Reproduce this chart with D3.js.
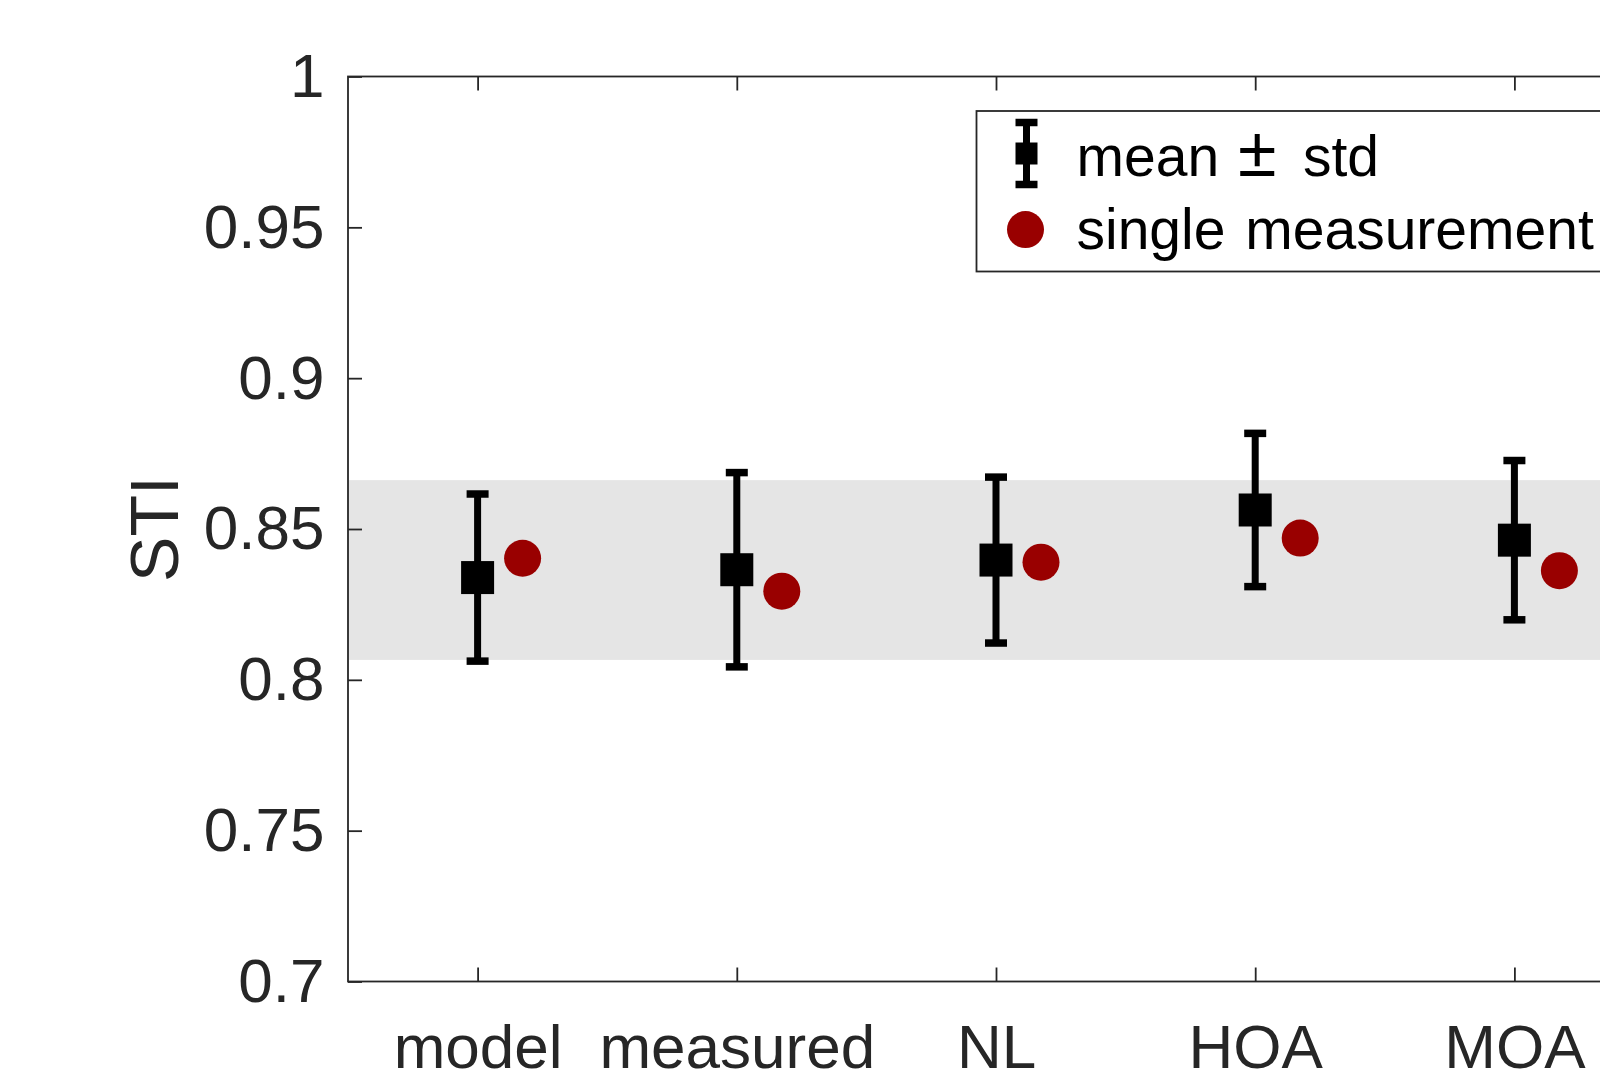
<!DOCTYPE html>
<html>
<head>
<meta charset="utf-8">
<script src="https://cdn.jsdelivr.net/npm/d3@7"></script>
<style>
  body { margin: 0; background: #fff; }
  svg { display: block; }
  text { font-family: "Liberation Sans", Arial, Helvetica, sans-serif; }
</style>
</head>
<body>
<div id="chart"></div>
<script>
var categories = ["model", "measured", "NL", "HOA", "MOA"];
var means = [0.8339, 0.8365, 0.8397, 0.8563, 0.8463];
var stds = [0.0277, 0.0322, 0.0275, 0.0254, 0.0264];
var singles = [0.8403, 0.8294, 0.8390, 0.8470, 0.8362];
var band = [0.8066, 0.8662];
var yTicks = [0.7, 0.75, 0.8, 0.85, 0.9, 0.95, 1];
var yTickLabels = ["0.7", "0.75", "0.8", "0.85", "0.9", "0.95", "1"];

var width = 1600, height = 1081;
var plotLeft = 348, plotTop = 76.5, plotBottom = 981.5, step = 259.2;
var ink = "#262626", red = "#990000";

var svg = d3.select("#chart").append("svg")
  .attr("width", width)
  .attr("height", height);

var x = d3.scaleLinear()
  .domain([0.5, categories.length + 0.5])
  .range([plotLeft, plotLeft + step * categories.length]);
var y = d3.scaleLinear()
  .domain([0.7, 1])
  .range([plotBottom, plotTop]);

// grey band
svg.append("rect")
  .attr("x", x(0.5))
  .attr("width", x(categories.length + 0.5) - x(0.5))
  .attr("y", y(band[1]))
  .attr("height", y(band[0]) - y(band[1]))
  .attr("fill", "#e5e5e5");

// axes
var yAxis = d3.axisLeft(y).tickValues(yTicks)
  .tickFormat((d, i) => yTickLabels[i])
  .tickSizeInner(-14).tickSizeOuter(0).tickPadding(23.5);
var gy = svg.append("g").attr("transform", "translate(" + plotLeft + ",0)").call(yAxis);

var xAxis = d3.axisBottom(x).tickValues(d3.range(1, categories.length + 1))
  .tickFormat((d) => categories[d - 1])
  .tickSizeInner(-14).tickSizeOuter(0).tickPadding(42);
var gx = svg.append("g").attr("transform", "translate(0," + plotBottom + ")").call(xAxis);

var xTop = d3.axisTop(x).tickValues(d3.range(1, categories.length + 1))
  .tickFormat("").tickSizeInner(-14).tickSizeOuter(0);
var gt = svg.append("g").attr("transform", "translate(0," + plotTop + ")").call(xTop);

[gy, gx, gt].forEach(g => {
  g.select(".domain").remove();
  g.selectAll(".tick line").attr("stroke", ink).attr("stroke-width", 1.8);
  g.selectAll(".tick text").attr("fill", ink).style("font-size", "62px")
    .style("font-family", '"Liberation Sans", Arial, Helvetica, sans-serif');
});

// axes box
svg.append("rect")
  .attr("x", x(0.5)).attr("y", plotTop)
  .attr("width", x(categories.length + 0.5) - x(0.5))
  .attr("height", plotBottom - plotTop)
  .attr("fill", "none").attr("stroke", ink).attr("stroke-width", 1.8);

// y label
svg.append("text")
  .attr("transform", "translate(178," + (plotTop + plotBottom) / 2 + ") rotate(-90)")
  .attr("text-anchor", "middle")
  .attr("fill", ink)
  .style("font-size", "68px")
  .text("STI");

// error bars
var eb = svg.append("g").selectAll("g").data(categories).enter().append("g");
eb.append("line")
  .attr("x1", (d, i) => x(i + 1)).attr("x2", (d, i) => x(i + 1))
  .attr("y1", (d, i) => y(means[i] + stds[i])).attr("y2", (d, i) => y(means[i] - stds[i]))
  .attr("stroke", "#000").attr("stroke-width", 7);
[1, -1].forEach(s => {
  eb.append("line")
    .attr("x1", (d, i) => x(i + 1) - 11).attr("x2", (d, i) => x(i + 1) + 11)
    .attr("y1", (d, i) => y(means[i] + s * stds[i])).attr("y2", (d, i) => y(means[i] + s * stds[i]))
    .attr("stroke", "#000").attr("stroke-width", 7.5);
});
eb.append("rect")
  .attr("x", (d, i) => x(i + 1) - 16.5).attr("y", (d, i) => y(means[i]) - 16.5)
  .attr("width", 33).attr("height", 33)
  .attr("fill", "#000");

// single measurements
svg.append("g").selectAll("circle").data(singles).enter().append("circle")
  .attr("cx", (d, i) => x(i + 1) + 45)
  .attr("cy", d => y(d))
  .attr("r", 18.5)
  .attr("fill", red);

// legend
var lg = svg.append("g");
lg.append("rect")
  .attr("x", 976.5).attr("y", 111)
  .attr("width", 700).attr("height", 160.5)
  .attr("fill", "#fff").attr("stroke", ink).attr("stroke-width", 1.8);
lg.append("line").attr("x1", 1026.5).attr("x2", 1026.5).attr("y1", 122.5).attr("y2", 184.5)
  .attr("stroke", "#000").attr("stroke-width", 7);
[122.5, 184.5].forEach(cy => {
  lg.append("line").attr("x1", 1015.5).attr("x2", 1037.5).attr("y1", cy).attr("y2", cy)
    .attr("stroke", "#000").attr("stroke-width", 7.5);
});
lg.append("rect").attr("x", 1015.5).attr("y", 142.5).attr("width", 22).attr("height", 22).attr("fill", "#000");
lg.append("circle").attr("cx", 1025.5).attr("cy", 229.6).attr("r", 18.5).attr("fill", red);

var t1 = lg.append("text").attr("y", 176).attr("fill", "#000").style("font-size", "57px");
t1.append("tspan").attr("x", 1076.5).text("mean");
t1.append("tspan").attr("x", 1238).style("font-size", "70px").text("\u00b1");
t1.append("tspan").attr("x", 1303).style("font-size", "57px").text("std");
lg.append("text").attr("x", 1076.5).attr("y", 249).attr("fill", "#000")
  .style("font-size", "57px").style("word-spacing", "4px").text("single measurement");
</script>
</body>
</html>
